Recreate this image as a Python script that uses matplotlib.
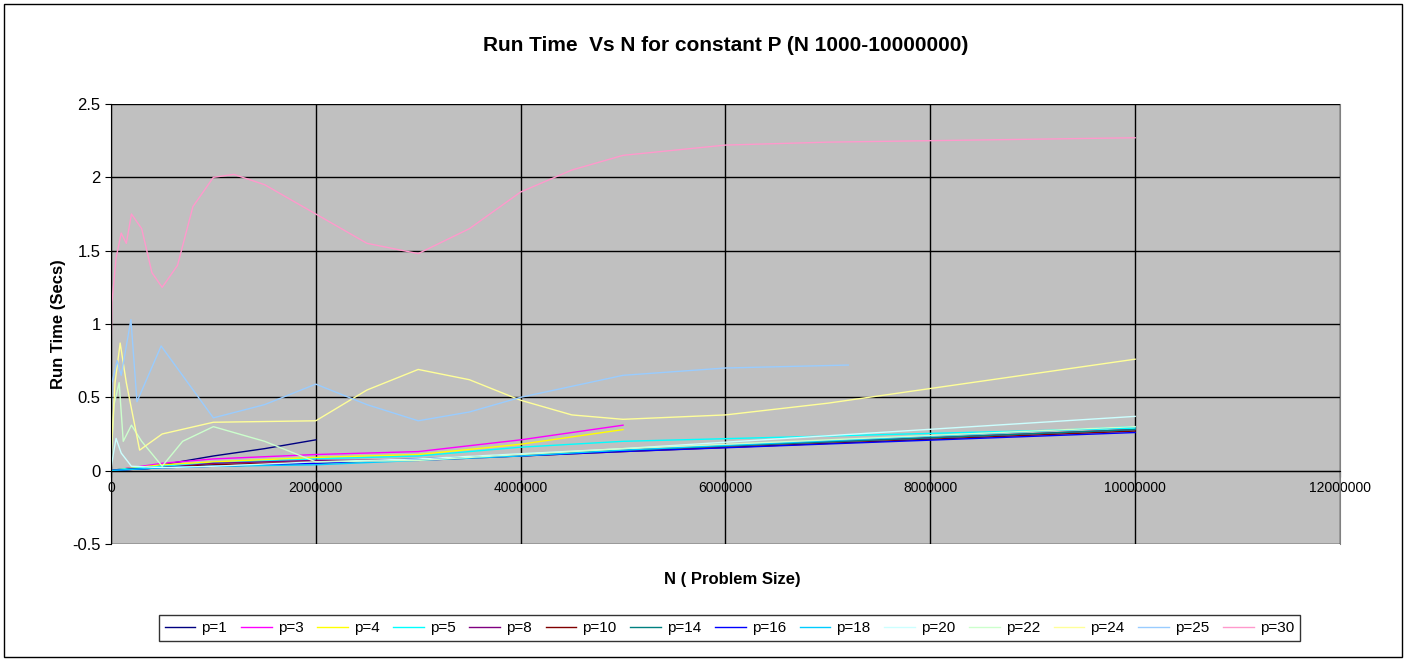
import matplotlib.pyplot as plt

plt.rcParams['font.family'] = ['Liberation Sans', 'DejaVu Sans']

# ---- data (N, seconds) ----
labels = ['p=1', 'p=3', 'p=4', 'p=5', 'p=8', 'p=10', 'p=14', 'p=16',
          'p=18', 'p=20', 'p=22', 'p=24', 'p=25', 'p=30']
colors = ['#000080', '#FF00FF', '#FFFF00', '#00FFFF', '#800080', '#800000',
          '#008080', '#0000FF', '#00CCFF', '#CCFFFF', '#CCFFCC', '#FFFF99',
          '#99CCFF', '#FF99CC']

n_p1 = [1000, 100000, 500000, 1000000, 1500000, 2000000]
t_p1 = [0.001, 0.01, 0.04, 0.1, 0.15, 0.21]
n_p3 = [1000, 100000, 500000, 1000000, 2000000, 3000000, 4000000, 5000000]
t_p3 = [0.001, 0.01, 0.05, 0.08, 0.11, 0.13, 0.21, 0.31]
n_p4 = [1000, 100000, 500000, 1000000, 2000000, 3000000, 4000000, 5000000]
t_p4 = [0.001, 0.01, 0.04, 0.06, 0.09, 0.11, 0.18, 0.28]
n_p5 = [1000, 100000, 500000, 1000000, 2000000, 3000000, 4000000, 5000000, 10000000]
t_p5 = [0.001, 0.01, 0.03, 0.05, 0.08, 0.1, 0.16, 0.2, 0.29]
n_p8 = [1000, 100000, 500000, 1000000, 2000000, 3000000, 4000000, 5000000, 10000000]
t_p8 = [0.001, 0.005, 0.02, 0.05, 0.07, 0.07, 0.1, 0.14, 0.28]
n_p10 = [1000, 100000, 500000, 1000000, 2000000, 3000000, 4000000, 5000000, 10000000]
t_p10 = [0.001, 0.005, 0.02, 0.04, 0.06, 0.08, 0.1, 0.13, 0.27]
n_p14 = [1000, 100000, 500000, 1000000, 2000000, 3000000, 4000000, 5000000, 10000000]
t_p14 = [0.001, 0.005, 0.02, 0.03, 0.05, 0.08, 0.11, 0.14, 0.28]
n_p16 = [1000, 100000, 500000, 1000000, 2000000, 3000000, 4000000, 5000000, 10000000]
t_p16 = [0.001, 0.005, 0.02, 0.03, 0.05, 0.08, 0.1, 0.13, 0.26]
n_p18 = [1000, 100000, 500000, 1000000, 2000000, 3000000, 4000000, 5000000, 10000000]
t_p18 = [0.001, 0.005, 0.02, 0.03, 0.04, 0.07, 0.1, 0.14, 0.3]
n_p20 = [1000, 20000, 50000, 100000, 200000, 500000, 1000000, 2000000, 3000000, 5000000, 10000000]
t_p20 = [0.01, 0.1, 0.22, 0.12, 0.03, 0.02, 0.03, 0.06, 0.08, 0.15, 0.37]
n_p22 = [1000, 30000, 80000, 120000, 200000, 300000, 500000, 700000, 1000000, 1500000, 2000000, 3000000, 5000000, 10000000]
t_p22 = [0.05, 0.45, 0.6, 0.2, 0.31, 0.2, 0.03, 0.2, 0.3, 0.2, 0.06, 0.07, 0.15, 0.3]
n_p24 = [1000, 40000, 90000, 150000, 280000, 500000, 1000000, 2000000, 2500000, 3000000, 3500000, 4000000, 4500000, 5000000, 6000000, 7000000, 8000000, 9000000, 10000000]
t_p24 = [0.1, 0.6, 0.87, 0.6, 0.14, 0.25, 0.33, 0.34, 0.55, 0.69, 0.62, 0.48, 0.38, 0.35, 0.38, 0.46, 0.56, 0.66, 0.76]
n_p25 = [1000, 10000, 60000, 100000, 195000, 254000, 490000, 750000, 1000000, 1500000, 2000000, 2500000, 3000000, 3500000, 4000000, 5000000, 6000000, 7200000]
t_p25 = [0.3, 0.6, 0.75, 0.65, 1.03, 0.47, 0.85, 0.6, 0.36, 0.45, 0.59, 0.45, 0.34, 0.4, 0.5, 0.65, 0.7, 0.72]
n_p30 = [1000, 10000, 50000, 100000, 150000, 200000, 300000, 400000, 500000, 650000, 800000, 1000000, 1200000, 1500000, 2000000, 2500000, 3000000, 3500000, 4000000, 4500000, 5000000, 6000000, 7000000, 8000000, 9000000, 10000000]
t_p30 = [0.8, 1.15, 1.45, 1.62, 1.55, 1.75, 1.65, 1.35, 1.25, 1.4, 1.8, 2.0, 2.02, 1.95, 1.75, 1.55, 1.48, 1.65, 1.9, 2.05, 2.15, 2.22, 2.24, 2.25, 2.26, 2.27]

series_n = [n_p1, n_p3, n_p4, n_p5, n_p8, n_p10, n_p14, n_p16, n_p18, n_p20, n_p22, n_p24, n_p25, n_p30]
series_t = [t_p1, t_p3, t_p4, t_p5, t_p8, t_p10, t_p14, t_p16, t_p18, t_p20, t_p22, t_p24, t_p25, t_p30]

x_ticks = [0, 2000000, 4000000, 6000000, 8000000, 10000000, 12000000]
y_ticks = [-0.5, 0, 0.5, 1, 1.5, 2, 2.5]

fig = plt.figure(figsize=(14.08, 6.6), dpi=100)
ax = fig.add_axes([0.0788, 0.1758, 0.8729, 0.6666])
ax.set_facecolor('#C0C0C0')

for n, t, c, lab in zip(series_n, series_t, colors, labels):
    ax.plot(n, t, color=c, linewidth=1, label=lab)

ax.set_xlim(0, 12000000)
ax.set_ylim(-0.5, 2.5)
ax.set_xticks(x_ticks)
ax.set_xticklabels([str(v) for v in x_ticks], fontsize=12)
ax.set_yticks(y_ticks)
ax.set_yticklabels(['-0.5', '0', '0.5', '1', '1.5', '2', '2.5'], fontsize=12)
ax.grid(color='black', linewidth=1)
ax.set_axisbelow(True)
ax.spines['bottom'].set_position(('data', 0))
ax.spines['top'].set_visible(False)
ax.spines['right'].set_color('#808080')
ax.tick_params(direction='out', length=4)

ax.set_title('Run Time  Vs N for constant P (N 1000-10000000)', fontsize=15,
             fontweight='bold', pad=38)
ax.set_ylabel('Run Time (Secs)', fontsize=12, fontweight='bold')
fig.text(0.52, 0.115, 'N ( Problem Size)', fontsize=12, fontweight='bold', ha='center')

leg = fig.legend(loc='center', bbox_to_anchor=(0.518, 0.048), ncol=14,
                 fontsize=11, frameon=True, fancybox=False, edgecolor='black',
                 handlelength=2.0, columnspacing=0.9, handletextpad=0.4)
leg.get_frame().set_linewidth(1)

# outer chart border
fig.patches.append(plt.Rectangle((0.003, 0.004), 0.993, 0.99, transform=fig.transFigure,
                                 fill=False, edgecolor='black', linewidth=1))

fig.savefig('out.png', dpi=100)
